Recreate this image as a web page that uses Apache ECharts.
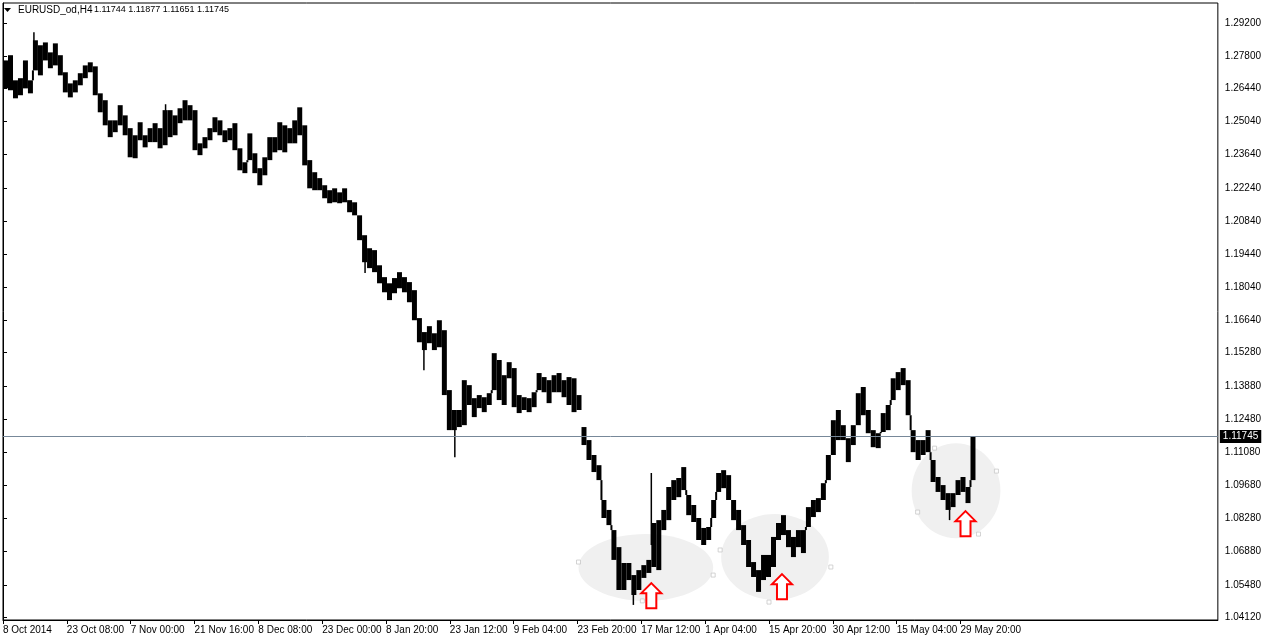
<!DOCTYPE html>
<html><head><meta charset="utf-8">
<script src="https://cdn.jsdelivr.net/npm/echarts@6/dist/echarts.min.js"></script>
<style>html,body{margin:0;padding:0;background:#fff}#c{width:1264px;height:639px}</style>
</head><body><div id="c"></div><script>
// ---- data (EURUSD H4, each entry = high/low of a 5-bar group) ----
const STEP = 5;
const highs = [
1.2762,1.2784,1.2678,1.2687,1.2762,1.2678,1.2847,1.2826,1.2838,1.2796,
1.2834,1.2784,1.2712,1.2665,1.2678,1.2708,1.2741,1.2754,1.2737,1.2623,
1.2594,1.2509,1.2509,1.2573,1.2530,1.2476,1.2446,1.2501,1.2446,1.2476,
1.2497,1.2476,1.2552,1.2552,1.2530,1.2560,1.2594,1.2573,1.2552,1.2412,
1.2438,1.2476,1.2522,1.2509,1.2467,1.2476,1.2497,1.2391,1.2332,1.2454,
1.2370,1.2307,1.2353,1.2438,1.2438,1.2501,1.2488,1.2476,1.2509,1.2564,
1.2488,1.2341,1.2290,1.2265,1.2235,1.2214,1.2222,1.2205,1.2222,1.2172,
1.2163,1.2108,1.2024,1.1969,1.1961,1.1897,1.1847,1.1821,1.1843,1.1868,
1.1847,1.1826,1.1792,1.1674,1.1615,1.1640,1.1610,1.1665,1.1623,1.1370,
1.1286,1.1286,1.1412,1.1391,1.1336,1.1349,1.1340,1.1357,1.1526,1.1497,
1.1433,1.1488,1.1463,1.1349,1.1340,1.1336,1.1361,1.1442,1.1425,1.1412,
1.1433,1.1442,1.1412,1.1425,1.1420,1.1349,1.1214,1.1159,1.1096,1.1053,
1.0906,1.0864,1.0779,1.0707,1.0640,1.0640,1.0589,1.0610,1.0631,1.0653,
1.0809,1.0821,1.0864,1.0961,1.0990,1.0999,1.1045,1.0927,1.0885,1.0830,
1.0788,1.0792,1.0906,1.1020,1.1032,1.1011,1.0906,1.0864,1.0800,1.0737,
1.0644,1.0610,1.0674,1.0674,1.0750,1.0809,1.0842,1.0779,1.0750,1.0779,
1.0779,1.0876,1.0906,1.0914,1.0977,1.1096,1.1243,1.1286,1.1222,1.1167,
1.1222,1.1357,1.1383,1.1286,1.1201,1.1188,1.1273,1.1307,1.1420,1.1446,
1.1463,1.1412,1.1201,1.1159,1.1159,1.1201,1.1075,1.1003,1.0969,1.0935,
1.0935,1.0990,1.1003,1.0961,1.1176];
const lows = [
1.2644,1.2636,1.2602,1.2615,1.2644,1.2623,1.2720,1.2699,1.2762,1.2729,
1.2741,1.2699,1.2627,1.2606,1.2627,1.2657,1.2687,1.2712,1.2615,1.2543,
1.2488,1.2438,1.2459,1.2488,1.2446,1.2353,1.2349,1.2425,1.2395,1.2417,
1.2417,1.2391,1.2404,1.2438,1.2446,1.2497,1.2509,1.2509,1.2383,1.2362,
1.2391,1.2425,1.2459,1.2446,1.2417,1.2425,1.2383,1.2298,1.2286,1.2341,
1.2286,1.2235,1.2277,1.2341,1.2374,1.2383,1.2374,1.2412,1.2412,1.2446,
1.2319,1.2222,1.2214,1.2214,1.2180,1.2159,1.2163,1.2159,1.2163,1.2121,
1.2108,1.2003,1.1910,1.1885,1.1868,1.1821,1.1783,1.1750,1.1779,1.1800,
1.1783,1.1741,1.1665,1.1572,1.1539,1.1568,1.1539,1.1551,1.1349,1.1201,
1.1201,1.1214,1.1222,1.1307,1.1256,1.1294,1.1277,1.1307,1.1370,1.1328,
1.1307,1.1420,1.1298,1.1273,1.1286,1.1277,1.1298,1.1370,1.1361,1.1315,
1.1361,1.1361,1.1340,1.1307,1.1277,1.1286,1.1138,1.1075,1.1024,1.0990,
1.0830,1.0800,1.0653,1.0526,1.0526,1.0568,1.0505,1.0526,1.0577,1.0598,
1.0623,1.0610,1.0779,1.0821,1.0906,1.0918,1.0948,1.0842,1.0813,1.0737,
1.0716,1.0737,1.0830,1.0940,1.0956,1.0906,1.0821,1.0779,1.0716,1.0623,
1.0581,1.0518,1.0568,1.0581,1.0623,1.0737,1.0758,1.0707,1.0665,1.0707,
1.0682,1.0792,1.0834,1.0855,1.0906,1.0990,1.1096,1.1159,1.1159,1.1066,
1.1138,1.1222,1.1264,1.1188,1.1129,1.1125,1.1193,1.1201,1.1328,1.1370,
1.1391,1.1264,1.1108,1.1075,1.1096,1.1108,1.0982,1.0940,1.0906,1.0864,
1.0876,1.0927,1.0940,1.0893,1.0990];
// single-bar spikes: [bar index, extreme price]
const spikes = [[31,1.2881],[163,1.2577],[363,1.1864],[422,1.1454],[453,1.1087],[632,1.0463],[650,1.1020],[949,1.0821]];
// groups followed by a price gap (no bars bridging)
const gapAfter = [115];
const xLabels = ["8 Oct 2014","23 Oct 08:00","7 Nov 00:00","21 Nov 16:00","8 Dec 08:00","23 Dec 00:00","8 Jan 20:00","23 Jan 12:00","9 Feb 04:00","23 Feb 20:00","17 Mar 12:00","1 Apr 04:00","15 Apr 20:00","30 Apr 12:00","15 May 04:00","29 May 20:00"];
const BARS_PER_LABEL = 64;
const yTicks = [1.29200,1.27800,1.26440,1.25040,1.23640,1.22240,1.20840,1.19440,1.18040,1.16640,1.15280,1.13880,1.12480,1.11080,1.09680,1.08280,1.06880,1.05480,1.04120];
const lastPrice = 1.11745;
const symbolName = "EURUSD_od,H4";
const ohlcText = "1.11744 1.11877 1.11651 1.11745";
// ellipses: [barFrom, barTo, priceTop, priceBottom]
const ellipses = [[577,712,1.0762,1.0480],[720,828,1.0847,1.0484],[911,1000,1.1146,1.0745]];
// ellipse anchor handles: [bar, price]
const handles = [[577,1.0644],[712,1.0589],[641,1.0480],[719,1.0695],[830,1.0623],[768,1.0475],[934,1.1125],[996,1.1028],[917,1.0855],[978,1.0762]];
// arrow tips: [bar, price]
const arrows = [[650,1.0555],[781,1.0593],[965,1.0859]];

// ---- chart ----
const chart = echarts.init(document.getElementById('c'));
const FONT = 'Liberation Sans';
const barData = highs.map((h, i) => [i * STEP, h, lows[i]]);
const spikeData = spikes.map(s => {
  const g = Math.floor(s[0] / STEP);
  return [s[0], (highs[g] + lows[g]) / 2, s[1]];
});
const xTickPos = xLabels.map((_, i) => i * BARS_PER_LABEL);

chart.setOption({
  animation: false,
  backgroundColor: '#fff',
  grid: { left: 2, right: 44, top: 3, bottom: 19, show: true, borderColor: '#000', borderWidth: 1, backgroundColor: 'transparent' },
  xAxis: {
    type: 'value', min: 0, max: 1218, interval: BARS_PER_LABEL,
    axisLine: { show: true, lineStyle: { color: '#000' } },
    axisTick: { show: true, length: 4, lineStyle: { color: '#000' }, customValues: xTickPos },
    axisLabel: { customValues: xTickPos, align: 'left', margin: 5, color: '#000', fontFamily: FONT, fontSize: 10,
      formatter: v => xLabels[Math.round(v / BARS_PER_LABEL)] || '' },
    splitLine: { show: false }
  },
  yAxis: {
    type: 'value', position: 'right', min: 1.039933, max: 1.300445, scale: true,
    axisLine: { show: true, lineStyle: { color: '#000' } },
    axisTick: { show: true, length: 4, lineStyle: { color: '#000' }, customValues: yTicks },
    axisLabel: { customValues: yTicks, margin: 7, color: '#000', fontFamily: FONT, fontSize: 10, padding: [2, 0, 0, 0], formatter: v => v.toFixed(5) },
    splitLine: { show: false }
  },
  graphic: [
    { type: 'polygon', shape: { points: [[4, 8], [11, 8], [7.5, 12]] }, style: { fill: '#000' } },
    { type: 'text', left: 18, top: 5, style: { text: symbolName, fill: '#000', font: '10px "Liberation Sans"' } },
    { type: 'text', left: 94, top: 5, style: { text: ohlcText, fill: '#000', font: '9px "Liberation Sans"' } }
  ],
  series: [
    {
      type: 'custom', name: 'ellipses', z: 1, silent: true,
      data: ellipses,
      renderItem: (p, api) => {
        const a = api.coord([api.value(0), api.value(2)]);
        const b = api.coord([api.value(1), api.value(3)]);
        return { type: 'ellipse', shape: { cx: (a[0] + b[0]) / 2, cy: (a[1] + b[1]) / 2, rx: Math.abs(b[0] - a[0]) / 2, ry: Math.abs(b[1] - a[1]) / 2 }, style: { fill: '#f0f0f0' } };
      }
    },
    {
      type: 'scatter', name: 'handles', z: 2, silent: true, symbol: 'rect', symbolSize: 4,
      itemStyle: { color: '#fff', borderColor: '#c8c8c8', borderWidth: 1 },
      data: handles,
      markLine: {
        silent: true, symbol: ['none', 'none'], precision: 5,
        lineStyle: { color: '#778899', width: 1, type: 'solid' },
        label: { show: true, position: 'end', distance: 2, formatter: () => lastPrice.toFixed(5), color: '#fff', backgroundColor: '#000', padding: [2, 3, 1, 3], fontFamily: FONT, fontSize: 10 },
        data: [{ yAxis: lastPrice }]
      }
    },
    {
      type: 'custom', name: 'EURUSD', z: 3, silent: true,
      data: barData,
      renderItem: (p, api) => {
        const i = p.dataIndex;
        const x = api.value(0), h = api.value(1), l = api.value(2);
        const a = api.coord([x, h]);
        const b = api.coord([x + STEP, l]);
        const children = [{ type: 'rect', shape: { x: a[0], y: a[1], width: b[0] - a[0], height: Math.max(1, b[1] - a[1]) }, style: { fill: '#000' } }];
        if (i + 1 < highs.length && gapAfter.indexOf(i) < 0) {
          const nh = highs[i + 1], nl = lows[i + 1];
          let from = null, to = null;
          if (nl > h) { from = h; to = nl; } else if (nh < l) { from = l; to = nh; }
          if (from !== null) {
            const c1 = api.coord([x + STEP, from]), c2 = api.coord([x + STEP, to]);
            children.push({ type: 'line', shape: { x1: c1[0], y1: c1[1], x2: c2[0], y2: c2[1] }, style: { stroke: '#000', lineWidth: 2 } });
          }
        }
        return { type: 'group', children };
      }
    },
    {
      type: 'custom', name: 'spikes', z: 3, silent: true,
      data: spikeData,
      renderItem: (p, api) => {
        const a = api.coord([api.value(0), api.value(1)]);
        const b = api.coord([api.value(0), api.value(2)]);
        return { type: 'line', shape: { x1: a[0], y1: a[1], x2: b[0], y2: b[1] }, style: { stroke: '#000', lineWidth: 1.5 } };
      }
    },
    {
      type: 'custom', name: 'arrows', z: 4, silent: true,
      data: arrows,
      renderItem: (p, api) => {
        const t = api.coord([api.value(0), api.value(1)]);
        const pts = [[0, 0], [10, 10], [5, 10], [5, 25], [-5, 25], [-5, 10], [-10, 10]].map(q => [t[0] + q[0], t[1] + q[1]]);
        return { type: 'polygon', shape: { points: pts }, style: { fill: '#fff', stroke: '#ff0000', lineWidth: 2 } };
      }
    }
  ]
});
</script></body></html>
